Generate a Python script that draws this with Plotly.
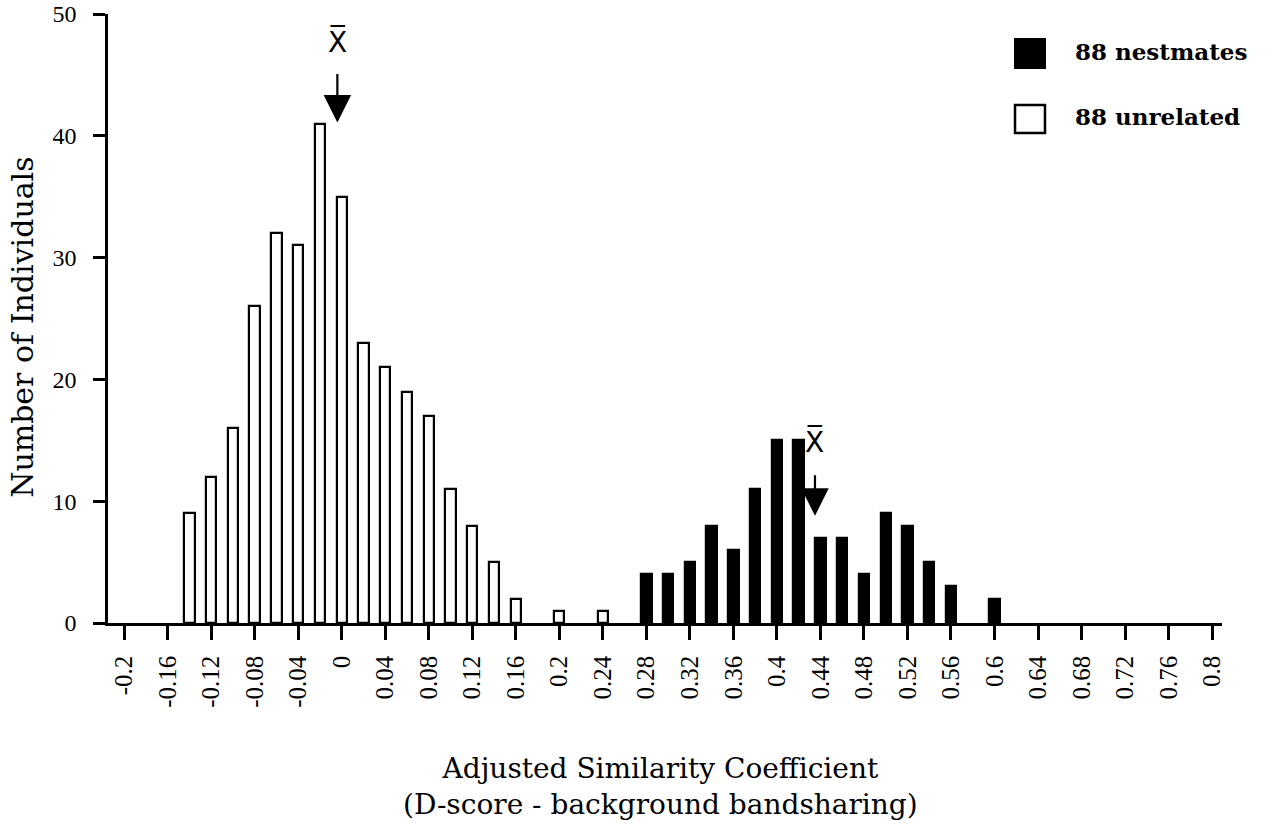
import plotly.graph_objects as go

# ---------------- data ----------------
unrelated_x = [-0.14, -0.12, -0.10, -0.08, -0.06, -0.04, -0.02, 0.00, 0.02, 0.04,
               0.06, 0.08, 0.10, 0.12, 0.14, 0.16, 0.20, 0.24]
unrelated_n = [9, 12, 16, 26, 32, 31, 41, 35, 23, 21, 19, 17, 11, 8, 5, 2, 1, 1]

nestmates_x = [0.28, 0.30, 0.32, 0.34, 0.36, 0.38, 0.40, 0.42, 0.44, 0.46,
               0.48, 0.50, 0.52, 0.54, 0.56, 0.60]
nestmates_n = [4, 4, 5, 8, 6, 11, 15, 15, 7, 7, 4, 9, 8, 5, 3, 2]

# means marked with X-bar arrows (x value, height of arrow tip)
mean_unrelated = (-0.004, 41.1)
mean_nestmates = (0.435, 8.8)

x_tick_vals = [-0.2, -0.16, -0.12, -0.08, -0.04, 0, 0.04, 0.08, 0.12, 0.16, 0.2, 0.24,
               0.28, 0.32, 0.36, 0.4, 0.44, 0.48, 0.52, 0.56, 0.6, 0.64, 0.68, 0.72,
               0.76, 0.8]
x_tick_text = ["-0.2", "-0.16", "-0.12", "-0.08", "-0.04", "0", "0.04", "0.08", "0.12",
               "0.16", "0.2", "0.24", "0.28", "0.32", "0.36", "0.4", "0.44", "0.48",
               "0.52", "0.56", "0.6", "0.64", "0.68", "0.72", "0.76", "0.8"]
y_tick_vals = [0, 10, 20, 30, 40, 50]

legend_labels = ["88 nestmates", "88 unrelated"]
x_title = "Adjusted Similarity Coefficient<br>(D-score - background bandsharing)"
y_title = "Number of Individuals"

# ---------------- figure ----------------
BAR_W = 0.0095
fig = go.Figure()
fig.add_trace(go.Bar(
    x=unrelated_x, y=unrelated_n, width=BAR_W, name=legend_labels[1],
    marker=dict(color="white", line=dict(color="black", width=2.2)),
    showlegend=False, cliponaxis=False,
))
fig.add_trace(go.Bar(
    x=nestmates_x, y=nestmates_n, width=BAR_W, name=legend_labels[0],
    marker=dict(color="black", line=dict(color="black", width=2.2)),
    showlegend=False, cliponaxis=False,
))

annotations = []
# X-bar markers with arrows
for (mx, my), shift, ay in [(mean_unrelated, 80, -50), (mean_nestmates, 74, -42)]:
    annotations.append(dict(
        x=mx, y=my, xref="x", yref="y", text="", showarrow=True,
        ax=0, ay=ay, axref="pixel", ayref="pixel",
        arrowhead=2, arrowsize=2.5, arrowwidth=2.2, arrowcolor="black",
    ))
    annotations.append(dict(
        x=mx, y=my, xref="x", yref="y", text="X\u0305", showarrow=False,
        yshift=shift, xanchor="center", yanchor="middle",
        font=dict(family="DejaVu Sans", size=28, color="black"),
    ))

# axis titles as annotations for exact placement
annotations.append(dict(
    x=0.496, y=-0.268, xref="paper", yref="paper", text=x_title, showarrow=False,
    xanchor="center", yanchor="middle", align="center",
    font=dict(family="DejaVu Serif", size=28, color="black"),
))
annotations.append(dict(
    x=-0.077, y=0.485, xref="paper", yref="paper", text=y_title, showarrow=False,
    xanchor="center", yanchor="middle", textangle=-90,
    font=dict(family="DejaVu Serif", size=30, color="black"),
))

# legend (boxes + labels)
annotations.append(dict(
    x=0.866, y=0.938, xref="paper", yref="paper", text="<b>" + legend_labels[0] + "</b>",
    showarrow=False, xanchor="left", yanchor="middle",
    font=dict(family="DejaVu Serif", size=23, color="black"),
))
annotations.append(dict(
    x=0.866, y=0.831, xref="paper", yref="paper", text="<b>" + legend_labels[1] + "</b>",
    showarrow=False, xanchor="left", yanchor="middle",
    font=dict(family="DejaVu Serif", size=23, color="black"),
))
shapes = [
    dict(type="rect", xref="paper", yref="paper", x0=0.8142, x1=0.8411, y0=0.9113, y1=0.959,
         fillcolor="black", line=dict(color="black", width=2)),
    dict(type="rect", xref="paper", yref="paper", x0=0.8142, x1=0.8411, y0=0.8046, y1=0.8506,
         fillcolor="white", line=dict(color="black", width=2.5)),
]

fig.update_layout(
    width=1265, height=826, autosize=False,
    margin=dict(l=108, r=43, t=14, b=203, pad=0, autoexpand=False),
    paper_bgcolor="white", plot_bgcolor="white",
    barmode="overlay", bargap=0,
    annotations=annotations, shapes=shapes,
    font=dict(family="Liberation Serif", color="black"),
)
fig.update_xaxes(
    range=[-0.2148, 0.8091], tickmode="array", tickvals=x_tick_vals, ticktext=x_tick_text,
    tickangle=-90, ticks="outside", ticklen=14, tickwidth=2.5, tickcolor="black",
    showline=True, linewidth=2.5, linecolor="black", showgrid=False, zeroline=False,
    tickfont=dict(family="Liberation Serif", size=25, color="black"),
    ticklabelstandoff=6, automargin=False,
)
fig.update_yaxes(
    range=[0, 50], tickmode="array", tickvals=y_tick_vals,
    ticks="outside", ticklen=12, tickwidth=2.5, tickcolor="black",
    showline=True, linewidth=2.5, linecolor="black", showgrid=False, zeroline=False,
    tickfont=dict(family="Liberation Serif", size=24, color="black"),
    ticklabelstandoff=12, automargin=False,
)

fig.write_html(
    "out.html",
    config={"displayModeBar": False},
    post_script="document.body.style.margin='0px';document.body.style.overflow='hidden';",
)
